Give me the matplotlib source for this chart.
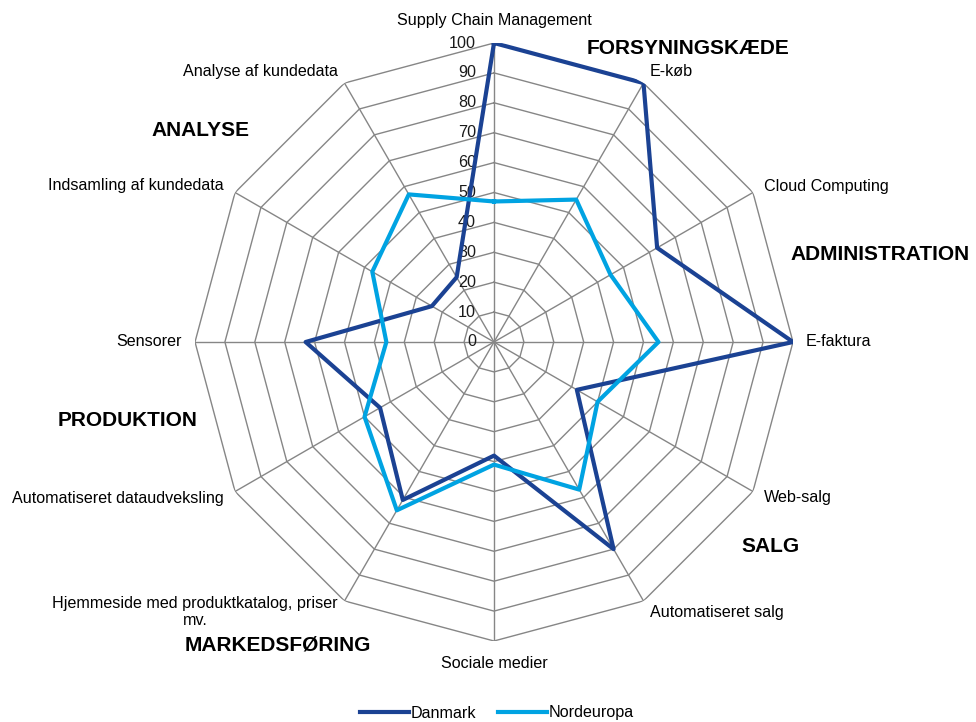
import numpy as np
import matplotlib
matplotlib.use("Agg")
import matplotlib.pyplot as plt

plt.rcParams['font.family'] = ['Liberation Sans', 'DejaVu Sans']

# categories clockwise from the top
categories = ["Supply Chain Management", "E-køb", "Cloud Computing", "E-faktura",
              "Web-salg", "Automatiseret salg", "Sociale medier",
              "Hjemmeside med produktkatalog, priser\nmv.",
              "Automatiseret dataudveksling", "Sensorer",
              "Indsamling af kundedata", "Analyse af kundedata"]
danmark = [100, 100, 63, 100, 32, 80, 38, 61, 44, 63, 24, 25]
nordeuropa = [47, 55, 45, 55, 40, 57, 41, 65, 50, 36, 47, 57]
series_names = ["Danmark", "Nordeuropa"]
levels = [0, 10, 20, 30, 40, 50, 60, 70, 80, 90, 100]

# group headings (figure pixel positions, centre)
groups = ["FORSYNINGSKÆDE", "ADMINISTRATION", "SALG", "MARKEDSFØRING", "PRODUKTION", "ANALYSE"]
group_pos = [(688, 48), (880, 254), (770, 547), (278, 645), (128, 421), (200, 131)]

W, H = 976, 722
fig = plt.figure(figsize=(W / 100, H / 100), dpi=100)
cx, cy, R = 494, 342, 299
ax = fig.add_axes([(cx - R) / W, (H - cy - R) / H, 2 * R / W, 2 * R / H], projection='polar')
ax.set_theta_offset(np.pi / 2)
ax.set_theta_direction(-1)
ax.set_ylim(0, 100)
ax.grid(False)
ax.spines['polar'].set_visible(False)
ax.set_xticks([])
ax.set_yticks([])
ax.patch.set_visible(False)

n = len(categories)
theta = np.arange(n) * 2 * np.pi / n
closed = np.append(theta, theta[0])

fs = 11.6
grid_col = '#868686'
for lv in levels[1:]:
    ax.plot(closed, [lv] * (n + 1), color=grid_col, lw=1.0, zorder=1)
for t in theta:
    ax.plot([t, t], [0, 100], color=grid_col, lw=1.0, zorder=1)

for lv in levels:
    ax.annotate(str(lv), (0, lv), xytext=(-18, 0), textcoords='offset pixels',
                ha='right', va='center', fontsize=fs, color='#1a1a1a', zorder=3)

colors = ['#1B4293', '#00A3E2']
for vals, name, c in zip([danmark, nordeuropa], series_names, colors):
    ax.plot(closed, vals + vals[:1], color=c, lw=3.0, label=name, zorder=4)

for t, lab in zip(theta, categories):
    s, co = np.sin(t), np.cos(t)
    if abs(s) < 0.01:
        ha, off = 'center', 22
    else:
        ha, off = ('left' if s > 0 else 'right'), 13
    ax.annotate(lab, (t, 100), xytext=(off * s, off * co), textcoords='offset pixels',
                ha=ha, va='center', fontsize=fs, multialignment='center',
                annotation_clip=False)

for g, (gx, gy) in zip(groups, group_pos):
    fig.text(gx / W, 1 - gy / H, g, ha='center', va='center', fontsize=15, fontweight='bold')

fig.legend(loc='center', bbox_to_anchor=(0.509, 1 - 713 / H), ncol=2, frameon=False,
           fontsize=fs, handlelength=3.0, columnspacing=1.4, handletextpad=0.1,
           borderpad=0)

fig.savefig('out.png', dpi=100)
